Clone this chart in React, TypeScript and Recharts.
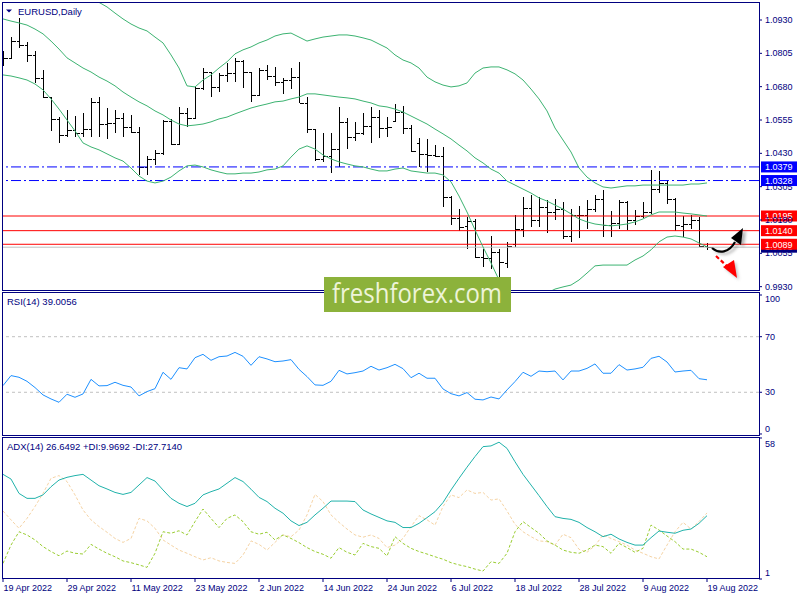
import { ComposedChart, Bar, Line, XAxis, YAxis, ReferenceLine } from "recharts"

const FONT = '"Liberation Sans", Arial, sans-serif'
const NAVY = "#000080"
const X_DOMAIN: [number, number] = [-0.125, 94.5]

// daily EURUSD bars, 19 Apr 2022 .. 19 Aug 2022
const opens = [
  1.078, 1.0788, 1.085, 1.0838, 1.0798, 1.0712, 1.064, 1.0558, 1.05, 1.0518,
  1.0506, 1.0521, 1.0622, 1.054, 1.0544, 1.0563, 1.0529, 1.051, 1.038, 1.0409,
  1.0431, 1.0551, 1.0465, 1.0581, 1.0563, 1.0675, 1.0735, 1.0679, 1.0725, 1.0731,
  1.0778, 1.0735, 1.0649, 1.0743, 1.072, 1.0698, 1.0705, 1.0716, 1.0619, 1.0521,
  1.0409, 1.042, 1.0446, 1.0548, 1.0491, 1.0506, 1.0533, 1.0566, 1.0525, 1.0551,
  1.0585, 1.0525, 1.0469, 1.0428, 1.0424, 1.042, 1.0266, 1.0188, 1.0158, 1.0176,
  1.004, 1.0038, 1.0061, 1.0019, 1.009, 1.0146, 1.0225, 1.018, 1.0229, 1.0211,
  1.0223, 1.012, 1.02, 1.0197, 1.0222, 1.026, 1.0163, 1.0169, 1.0247, 1.018,
  1.0195, 1.0211, 1.0298, 1.032, 1.0258, 1.0158, 1.0165, 1.018, 1.0083,
]
const highs = [
  1.0812, 1.0866, 1.0936, 1.0848, 1.0814, 1.0743, 1.064, 1.0566, 1.0593, 1.057,
  1.0581, 1.0636, 1.064, 1.06, 1.0593, 1.0581, 1.0574, 1.0529, 1.042, 1.0443,
  1.0555, 1.0559, 1.0604, 1.06, 1.0683, 1.075, 1.0735, 1.0731, 1.0769, 1.0788,
  1.078, 1.0735, 1.075, 1.0761, 1.0754, 1.0713, 1.075, 1.0773, 1.0641, 1.0521,
  1.0506, 1.0506, 1.0603, 1.0563, 1.0548, 1.0581, 1.0604, 1.0593, 1.0566, 1.0615,
  1.0608, 1.0536, 1.0488, 1.0484, 1.0461, 1.0454, 1.027, 1.0221, 1.0191, 1.0184,
  1.0071, 1.012, 1.0072, 1.0097, 1.0199, 1.0266, 1.0274, 1.0266, 1.0255, 1.0258,
  1.0247, 1.022, 1.0234, 1.0254, 1.0275, 1.0294, 1.0212, 1.0254, 1.025, 1.0218,
  1.0248, 1.0368, 1.0365, 1.033, 1.0263, 1.0195, 1.0199, 1.0191, 1.0094,
]
const lows = [
  1.0758, 1.0784, 1.0826, 1.0771, 1.0694, 1.0638, 1.0514, 1.047, 1.0491, 1.0491,
  1.0491, 1.0491, 1.0491, 1.0484, 1.0506, 1.0491, 1.0506, 1.035, 1.0349, 1.0386,
  1.0424, 1.0461, 1.0461, 1.0529, 1.0559, 1.0668, 1.0641, 1.066, 1.0698, 1.0698,
  1.0675, 1.0623, 1.0649, 1.0705, 1.0683, 1.0653, 1.0671, 1.0619, 1.0506, 1.0401,
  1.0397, 1.0356, 1.038, 1.0446, 1.0476, 1.05, 1.0469, 1.0488, 1.0491, 1.0548,
  1.0503, 1.0435, 1.0379, 1.036, 1.0416, 1.0229, 1.0161, 1.0139, 1.0071, 1.0038,
  1.0004, 0.9998, 0.9952, 0.9999, 1.0079, 1.0116, 1.0154, 1.0154, 1.013, 1.0181,
  1.0108, 1.0096, 1.0114, 1.0145, 1.021, 1.0116, 1.0116, 1.0146, 1.0141, 1.0161,
  1.0186, 1.0202, 1.0282, 1.0241, 1.014, 1.0116, 1.0146, 1.0079, 1.0068,
]
const closes = [
  1.0789, 1.085, 1.0838, 1.0798, 1.0712, 1.064, 1.0558, 1.05, 1.0518, 1.0506,
  1.0521, 1.0622, 1.054, 1.0544, 1.0563, 1.0529, 1.051, 1.038, 1.0409, 1.0431,
  1.0551, 1.0465, 1.0581, 1.0563, 1.0675, 1.0735, 1.0679, 1.0725, 1.0731, 1.0778,
  1.0735, 1.0649, 1.0743, 1.072, 1.0698, 1.0705, 1.0716, 1.0619, 1.0521, 1.0409,
  1.042, 1.0446, 1.0548, 1.0491, 1.0506, 1.0533, 1.0566, 1.0525, 1.0528, 1.0585,
  1.0525, 1.0439, 1.0428, 1.0424, 1.042, 1.0266, 1.0188, 1.0154, 1.0176, 1.004,
  1.0038, 1.0061, 1.0022, 1.0083, 1.0146, 1.0225, 1.018, 1.0229, 1.0211, 1.0223,
  1.012, 1.02, 1.0197, 1.0222, 1.026, 1.0163, 1.0169, 1.0247, 1.018, 1.0195,
  1.0211, 1.0298, 1.032, 1.0258, 1.016, 1.0165, 1.018, 1.0083, 1.0078,
]

// Bollinger bands
const bbUpper = [
  1.114, 1.113, 1.1122, 1.1112, 1.11, 1.1088, 1.107, 1.1052, 1.104, 1.103,
  1.1022, 1.101, 1.0996, 1.0979, 1.0956, 1.0934, 1.0915, 1.09, 1.0889, 1.0866,
  1.0844, 1.0799, 1.075, 1.0683, 1.0679, 1.0705, 1.0724, 1.075, 1.0773, 1.0803,
  1.0818, 1.0829, 1.0844, 1.0855, 1.087, 1.0878, 1.0881, 1.0866, 1.0851, 1.0859,
  1.0866, 1.087, 1.0874, 1.0874, 1.087, 1.0863, 1.0855, 1.084, 1.0825, 1.0799,
  1.078, 1.0769, 1.075, 1.0716, 1.0698, 1.0686, 1.0679, 1.0683, 1.0694, 1.0731,
  1.075, 1.0754, 1.0754, 1.0743, 1.0728, 1.0705, 1.0671, 1.0634, 1.0589, 1.0525,
  1.048, 1.0435, 1.0375, 1.0341, 1.0319, 1.0304, 1.03, 1.0304, 1.0308, 1.0308,
  1.0311, 1.0311, 1.0311, 1.0311, 1.0311, 1.0311, 1.0315, 1.0315, 1.0319,
]
const bbMiddle = [
  1.0934, 1.0926, 1.0919, 1.0911, 1.0896, 1.0878, 1.0851, 1.0821, 1.0788, 1.0769,
  1.075, 1.0735, 1.0716, 1.0701, 1.0683, 1.066, 1.0641, 1.0623, 1.0608, 1.0589,
  1.0574, 1.0555, 1.054, 1.0533, 1.0536, 1.054, 1.0548, 1.0559, 1.0566, 1.0578,
  1.0589, 1.06, 1.0608, 1.0615, 1.0623, 1.0626, 1.0634, 1.0641, 1.0653, 1.0653,
  1.0649, 1.0645, 1.0641, 1.0638, 1.0634, 1.0626, 1.0619, 1.0608, 1.0604, 1.0596,
  1.0585, 1.057, 1.0555, 1.054, 1.0521, 1.0503, 1.0484, 1.0461, 1.0439, 1.0413,
  1.0394, 1.0371, 1.0356, 1.0326, 1.0311, 1.0296, 1.0281, 1.0263, 1.0251, 1.0236,
  1.0221, 1.0203, 1.0184, 1.0173, 1.0165, 1.0161, 1.0158, 1.0161, 1.0165, 1.0173,
  1.0184, 1.0199, 1.021, 1.021, 1.021, 1.0206, 1.0203, 1.0199, 1.0195,
]
const bbLower = [
  1.0724, 1.072, 1.0713, 1.0705, 1.069, 1.0668, 1.0634, 1.0596, 1.0555, 1.0514,
  1.0469, 1.0454, 1.0443, 1.0428, 1.0413, 1.0401, 1.0375, 1.0345, 1.0326, 1.0319,
  1.0326, 1.0341, 1.0364, 1.0383, 1.0386, 1.0379, 1.0368, 1.036, 1.0353, 1.0353,
  1.0356, 1.0356, 1.036, 1.0368, 1.0371, 1.0383, 1.0416, 1.0446, 1.0458, 1.0446,
  1.0424, 1.0409, 1.0398, 1.039, 1.0383, 1.0379, 1.0371, 1.0364, 1.0364, 1.0371,
  1.0375, 1.0364, 1.036, 1.0356, 1.0356, 1.0349, 1.0323, 1.027, 1.021, 1.0143,
  1.0079, 1.0019, 0.9955, 0.9899, 0.9861, 0.9843, 0.985, 0.988, 0.9906, 0.9921,
  0.9929, 0.9936, 0.9955, 0.9981, 1.0008, 1.0011, 1.0011, 1.0011, 1.0011, 1.003,
  1.0045, 1.0068, 1.0098, 1.0116, 1.012, 1.0116, 1.0109, 1.0094, 1.0079,
]

const rsi = [
  34.8, 42.0, 40.8, 37.9, 33.4, 28.1, 25.2, 22.8, 28.6, 26.4,
  28.8, 39.3, 34.6, 34.8, 37.2, 35.0, 33.8, 27.4, 30.5, 32.6,
  44.4, 39.3, 47.7, 46.8, 54.9, 57.3, 53.0, 55.6, 56.1, 58.7,
  55.9, 49.4, 55.6, 54.0, 52.0, 52.5, 53.5, 46.5, 41.3, 35.3,
  35.0, 37.9, 45.8, 43.2, 44.1, 45.3, 48.7, 46.0, 47.7, 50.1,
  47.0, 40.5, 43.7, 40.1, 40.1, 32.4, 29.0, 27.4, 29.8, 25.0,
  24.5, 26.6, 25.2, 31.7, 37.7, 44.4, 41.5, 45.3, 44.8, 45.3,
  38.9, 45.3, 45.3, 47.2, 50.4, 43.7, 43.7, 49.9, 46.0, 46.8,
  48.0, 54.4, 55.9, 51.8, 44.6, 45.3, 45.8, 39.8, 39.0,
]

const adx = [
  43.3, 41.4, 35.6, 33.6, 33.6, 35.0, 38.3, 41.0, 42.1, 42.8,
  43.3, 41.0, 38.7, 37.4, 36.0, 35.2, 36.0, 39.0, 42.0, 40.6,
  37.0, 33.6, 31.6, 30.3, 31.6, 35.0, 36.3, 37.4, 39.7, 42.0,
  40.4, 37.3, 34.0, 32.3, 29.6, 27.6, 24.5, 22.6, 23.9, 26.9,
  29.6, 32.5, 32.5, 32.5, 32.3, 28.9, 27.3, 25.9, 24.5, 23.9,
  21.8, 21.8, 23.5, 25.8, 28.2, 31.9, 37.0, 41.7, 46.2, 50.5,
  54.5, 54.8, 56.3, 53.8, 48.4, 43.3, 39.0, 34.7, 30.3, 26.2,
  25.5, 25.1, 23.9, 21.8, 20.1, 18.1, 19.1, 17.2, 15.8, 14.7,
  14.7, 17.7, 20.4, 19.9, 19.5, 20.7, 21.2, 23.5, 26.6,
]
const plusDi = [
  7.3, 14.7, 20.1, 18.8, 16.8, 14.1, 12.1, 10.4, 12.3, 11.4,
  11.1, 15.0, 13.1, 11.4, 10.0, 8.3, 7.6, 6.7, 5.7, 11.4,
  20.1, 19.5, 20.5, 18.8, 24.2, 29.3, 25.5, 21.8, 25.5, 26.9,
  24.2, 20.1, 19.1, 19.9, 16.8, 18.8, 17.4, 15.7, 13.7, 12.1,
  11.0, 9.4, 13.7, 11.8, 10.7, 15.4, 14.1, 13.4, 10.3, 18.1,
  15.4, 13.4, 12.1, 11.1, 10.0, 9.0, 7.6, 6.7, 6.0, 5.0,
  4.2, 8.0, 7.3, 11.4, 20.1, 24.2, 21.8, 19.5, 16.4, 14.7,
  12.7, 11.8, 11.4, 12.7, 14.7, 14.1, 11.4, 15.4, 13.7, 11.8,
  13.4, 22.8, 20.8, 18.4, 16.1, 13.1, 13.1, 11.8, 10.0,
]
const minusDi = [
  28.5, 24.9, 21.5, 25.5, 30.3, 35.6, 41.7, 42.8, 40.4, 35.0,
  28.9, 24.9, 22.2, 19.9, 17.4, 15.8, 17.4, 25.5, 24.5, 21.5,
  16.8, 14.7, 12.7, 11.4, 10.0, 8.7, 9.6, 8.3, 7.7, 7.3,
  10.7, 16.4, 15.0, 12.7, 15.8, 18.8, 18.1, 20.8, 26.9, 35.2,
  32.3, 26.9, 23.9, 21.2, 18.8, 17.9, 18.8, 17.4, 13.7, 14.7,
  17.4, 22.2, 26.6, 24.9, 22.8, 30.3, 35.0, 33.9, 37.0, 35.6,
  36.0, 32.9, 33.4, 28.5, 23.1, 20.1, 18.1, 16.4, 16.1, 14.7,
  19.1, 17.7, 13.0, 11.8, 14.5, 18.8, 17.4, 16.1, 14.7, 12.7,
  11.4, 10.0, 9.1, 14.7, 20.1, 23.9, 21.2, 24.2, 27.7,
]

const dateTicks = [0, 8, 16, 24, 32, 40, 48, 56, 64, 72, 80, 88]
const dateLabels = [
  "19 Apr 2022", "29 Apr 2022", "11 May 2022", "23 May 2022", "2 Jun 2022", "14 Jun 2022",
  "24 Jun 2022", "6 Jul 2022", "18 Jul 2022", "28 Jul 2022", "9 Aug 2022", "19 Aug 2022",
]
const priceTicks = [0.993, 1.0055, 1.018, 1.0305, 1.043, 1.0555, 1.068, 1.0805, 1.093]
const rsiTicks = [0, 30, 70, 100]
const adxTicks = [1, 58]
const blueLevels = [1.0379, 1.0328]
const redLevels = [1.0195, 1.014, 1.0089]
const lastPrice = 1.0078

const rows = opens.map((open, i) => ({
  i,
  open,
  high: highs[i],
  low: lows[i],
  close: closes[i],
  range: [lows[i], highs[i]],
  bbUp: bbUpper[i],
  bbMid: bbMiddle[i],
  bbLow: bbLower[i],
  rsi: rsi[i],
  adx: adx[i],
  pdi: plusDi[i],
  mdi: minusDi[i],
}))

function OhlcBar(props: any) {
  const { x, y, width, height, payload } = props
  if (x == null || y == null) return null
  const top = Math.min(y, y + height)
  const h = Math.abs(height)
  const cx = Math.round(x + width / 2) + 0.5
  const span = payload.high - payload.low || 1e-9
  const at = (v: number) => Math.round(top + ((payload.high - v) / span) * h) + 0.5
  return (
    <g stroke="#000" strokeWidth={1} shapeRendering="crispEdges">
      <line x1={cx} x2={cx} y1={top} y2={top + Math.max(h, 1)} />
      <line x1={cx - 3} x2={cx} y1={at(payload.open)} y2={at(payload.open)} />
      <line x1={cx} x2={cx + 4} y1={at(payload.close)} y2={at(payload.close)} />
    </g>
  )
}

const priceBox = (text: string, fill: string) => (props: any) => {
  const vb = props.viewBox
  if (!vb) return null
  const x = vb.x + vb.width + 2
  return (
    <g>
      <rect x={x} y={vb.y - 5.5} width={36} height={11} fill={fill} />
      <text x={x + 4} y={vb.y} dy="0.36em" fill="#fff" fontSize={9} fontFamily={FONT}>
        {text}
      </text>
    </g>
  )
}

function sideTick(shift: Record<string, number>, fmt: (v: number) => string) {
  return function Tick(props: any) {
    const { x, y, payload } = props
    const d = shift[String(payload.value)] ?? 0
    return (
      <text x={x} y={y + d} dy="0.35em" textAnchor="start" fill={NAVY} fontSize={9} fontFamily={FONT}>
        {fmt(payload.value)}
      </text>
    )
  }
}

const PriceTick = sideTick({}, (v) => v.toFixed(4))
const RsiTick = sideTick({ "100": 3.5, "0": -5.5 }, (v) => String(v))
const AdxTick = sideTick({ "58": 6, "1": -6.5 }, (v) => String(v))

function DateTick(props: any) {
  const { x, y, payload } = props
  const k = dateTicks.indexOf(payload.value)
  return (
    <text x={x + 0.5} y={y} dy={7} textAnchor="start" fill={NAVY} fontSize={9} fontFamily={FONT}>
      {dateLabels[k]}
    </text>
  )
}

const axisCommon = {
  orientation: "right" as const,
  width: 41,
  allowDataOverflow: true,
  interval: 0 as const,
  tickSize: 3,
  tickMargin: 3,
  tickLine: { stroke: NAVY },
  axisLine: false,
}

export default function App() {
  return (
    <div style={{ position: "absolute", left: 0, top: 0, width: 800, height: 600, background: "#fff" }}>
      <div style={{ position: "absolute", left: 0, top: 0 }}>
        <ComposedChart width={800} height={292} data={rows} margin={{ top: 2, right: 0, bottom: 2, left: 2 }}>
          <XAxis type="number" dataKey="i" domain={X_DOMAIN} allowDataOverflow hide />
          <YAxis {...axisCommon} domain={[0.99175, 1.09975]} ticks={priceTicks} tick={<PriceTick />} />
          <ReferenceLine y={lastPrice} stroke="#c0c0c0" label={priceBox(lastPrice.toFixed(4), "#000080")} />
          {blueLevels.map((v) => (
            <ReferenceLine key={v} y={v} stroke="#0000ff" strokeDasharray="10 3 2 3" label={priceBox(v.toFixed(4), "#0000ff")} />
          ))}
          {redLevels.map((v) => (
            <ReferenceLine key={v} y={v} stroke="#ff0000" label={priceBox(v.toFixed(4), "#ff0000")} />
          ))}
          <Line type="linear" dataKey="bbUp" stroke="#3cb371" strokeWidth={1} dot={false} activeDot={false} isAnimationActive={false} />
          <Line type="linear" dataKey="bbMid" stroke="#3cb371" strokeWidth={1} dot={false} activeDot={false} isAnimationActive={false} />
          <Line type="linear" dataKey="bbLow" stroke="#3cb371" strokeWidth={1} dot={false} activeDot={false} isAnimationActive={false} />
          <Bar dataKey="range" barSize={6} isAnimationActive={false} shape={(p: any) => <OhlcBar {...p} />} />
        </ComposedChart>
      </div>

      <div style={{ position: "absolute", left: 0, top: 290 }}>
        <ComposedChart width={800} height={148} data={rows} margin={{ top: 2.5, right: 0, bottom: 2.5, left: 2 }}>
          <XAxis type="number" dataKey="i" domain={X_DOMAIN} allowDataOverflow hide />
          <YAxis {...axisCommon} domain={[-1.1, 101.8]} ticks={rsiTicks} tick={<RsiTick />} />
          <ReferenceLine y={70} stroke="#c0c0c0" strokeDasharray="3 3" />
          <ReferenceLine y={30} stroke="#c0c0c0" strokeDasharray="3 3" />
          <Line type="linear" dataKey="rsi" stroke="#1e90ff" strokeWidth={1} dot={false} activeDot={false} isAnimationActive={false} />
        </ComposedChart>
      </div>

      <div style={{ position: "absolute", left: 0, top: 435 }}>
        <ComposedChart width={800} height={165} data={rows} margin={{ top: 2.5, right: 0, bottom: 0, left: 2 }}>
          <XAxis
            type="number"
            dataKey="i"
            domain={X_DOMAIN}
            allowDataOverflow
            ticks={dateTicks}
            interval={0}
            height={21}
            tickSize={3}
            tickLine={{ stroke: NAVY }}
            axisLine={false}
            tick={<DateTick />}
          />
          <YAxis {...axisCommon} domain={[1, 58.2]} ticks={adxTicks} tick={<AdxTick />} />
          <Line type="linear" dataKey="mdi" stroke="#f5d3a4" strokeDasharray="3 2" strokeWidth={1} dot={false} activeDot={false} isAnimationActive={false} />
          <Line type="linear" dataKey="pdi" stroke="#9acd32" strokeDasharray="3 2" strokeWidth={1} dot={false} activeDot={false} isAnimationActive={false} />
          <Line type="linear" dataKey="adx" stroke="#20b2aa" strokeWidth={1} dot={false} activeDot={false} isAnimationActive={false} />
        </ComposedChart>
      </div>

      <svg width={800} height={600} style={{ position: "absolute", left: 0, top: 0, pointerEvents: "none" }}>
        <defs>
          <filter id="soft" x="-50%" y="-50%" width="200%" height="200%">
            <feGaussianBlur stdDeviation="1.5" />
          </filter>
        </defs>
        <g fill="none" stroke={NAVY} strokeWidth={1} shapeRendering="crispEdges">
          <rect x={2.5} y={2.5} width={757} height={288} />
          <rect x={2.5} y={292.5} width={757} height={143} />
          <rect x={2.5} y={437.5} width={757} height={141} />
        </g>
        <polygon points="6,9.5 12,9.5 9,12.5" fill={NAVY} />
        <text x={18} y={14.5} fontSize={9.5} fontFamily={FONT} fill={NAVY}>EURUSD,Daily</text>
        <text x={7} y={305} fontSize={9.5} fontFamily={FONT} fill={NAVY}>RSI(14) 39.0056</text>
        <text x={7} y={450} fontSize={9.5} fontFamily={FONT} fill={NAVY}>ADX(14) 26.6492 +DI:9.9692 -DI:27.7140</text>

        <rect x={324} y={277} width={187} height={35} fill="#8cb23b" />
        <text x={332} y={303} fontSize={27} fontFamily='"Open Sans", sans-serif' fill="#eef4d8" textLength={170} lengthAdjust="spacingAndGlyphs">
          freshforex.com
        </text>

        <g opacity={0.55} transform="translate(3,2)" filter="url(#soft)">
          <path d="M712 248 C 719 254, 729 253, 735 242" fill="none" stroke="#777" strokeWidth={2.2} />
          <polygon points="743,228 741,245 731,238" fill="#777" />
        </g>
        <path d="M712 248 C 719 254, 729 253, 735 242" fill="none" stroke="#000" strokeWidth={2.2} />
        <polygon points="743,228 741,245 731,238" fill="#000" />

        <g opacity={0.4} transform="translate(2,2)" filter="url(#soft)">
          <polygon points="737,278 734,260 723,267" fill="#777" />
        </g>
        <line x1={716} y1={256} x2={728} y2={267} stroke="#ff0000" strokeWidth={2.2} strokeDasharray="4 2.5" />
        <polygon points="737,278 734,260 723,267" fill="#ff0000" />
      </svg>
    </div>
  )
}
